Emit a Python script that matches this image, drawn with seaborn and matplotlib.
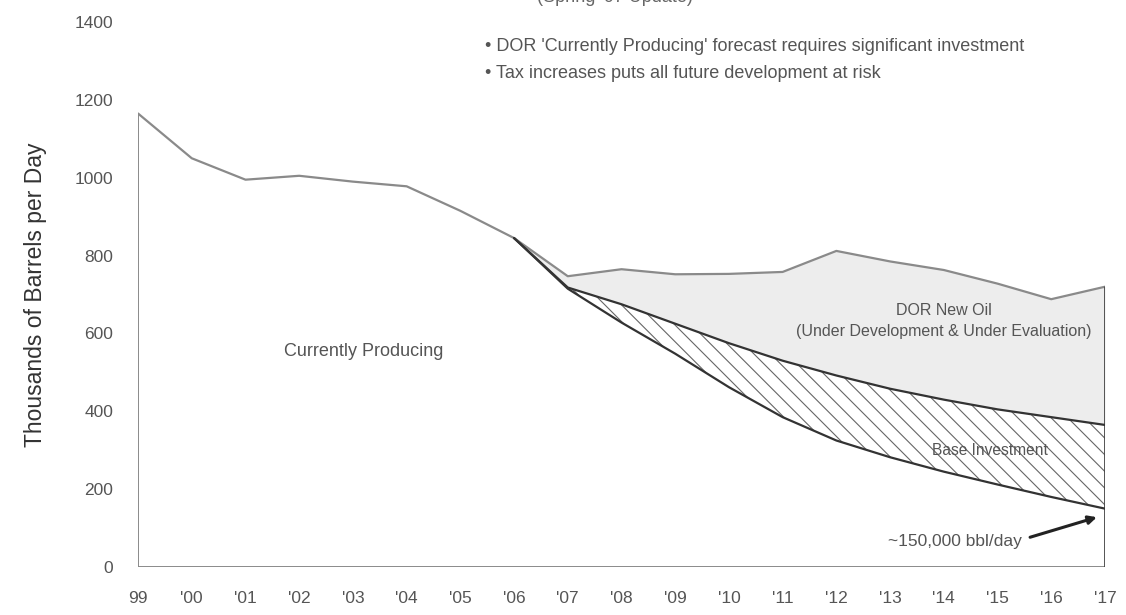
import numpy as np
import pandas as pd
import matplotlib
matplotlib.use("Agg")
import matplotlib.pyplot as plt
import seaborn as sns

# Alaska North Slope production, thousands of barrels per day
years = list(range(1999, 2018))
total_forecast = [1165, 1050, 995, 1005, 990, 978, 915, 845, 747, 765, 752,
                  753, 758, 812, 785, 763, 728, 688, 720]

forecast_years = list(range(2006, 2018))
currently_producing = [845, 715, 628, 548, 462, 385, 325, 282, 245, 212, 180, 150]
with_base_investment = [845, 718, 675, 625, 575, 530, 492, 458, 430, 405, 385, 365]

year_labels = ["99", "'00", "'01", "'02", "'03", "'04", "'05", "'06", "'07", "'08",
               "'09", "'10", "'11", "'12", "'13", "'14", "'15", "'16", "'17"]
y_ticks = [0, 200, 400, 600, 800, 1000, 1200, 1400]

sns.set_theme(style="white")
plt.rcParams["font.family"] = ["Liberation Sans", "DejaVu Sans"]
plt.rcParams["hatch.linewidth"] = 0.8

fig = plt.figure(figsize=(11.26, 6.15), dpi=100)
ax = fig.add_axes([0.1226, 0.078, 0.8587, 0.8862])

df_total = pd.DataFrame({"year": years, "value": total_forecast})
df_fc = pd.DataFrame({"year": forecast_years,
                      "producing": currently_producing,
                      "base": with_base_investment})

tot = np.array(total_forecast, dtype=float)
fy = np.array(forecast_years)
tot_fc = tot[[years.index(y) for y in forecast_years]]

# light shading for new oil volumes above the base-investment case
ax.fill_between(fy, df_fc["base"], tot_fc, color="#ededed", linewidth=0, zorder=1)
# hatched wedge: volumes that depend on base investment
ax.fill_between(fy, df_fc["producing"], df_fc["base"], facecolor="white",
                edgecolor="#666666", hatch="\\\\", linewidth=0, zorder=2)

sns.lineplot(data=df_total, x="year", y="value", color="#8a8a8a", linewidth=1.6,
             ax=ax, zorder=4)
sns.lineplot(data=df_fc, x="year", y="producing", color="#333333", linewidth=1.6,
             ax=ax, zorder=5)
sns.lineplot(data=df_fc, x="year", y="base", color="#333333", linewidth=1.6,
             ax=ax, zorder=5)

# area edges
ax.plot([years[0], years[0]], [0, total_forecast[0]], color="#8a8a8a", lw=1.4, zorder=4)
ax.plot([years[0], years[-1]], [0, 0], color="#8a8a8a", lw=1.4, zorder=4)
ax.plot([years[-1], years[-1]], [0, total_forecast[-1]], color="#444444", lw=2.0, zorder=4)

ax.set_xlim(1999, 2017)
ax.set_ylim(0, 1400)
ax.set_xticks(years)
ax.set_xticklabels(year_labels)
ax.set_yticks(y_ticks)
ax.tick_params(axis="both", length=0, colors="#555555", labelsize=12.5)
ax.tick_params(axis="y", pad=18)
ax.tick_params(axis="x", pad=17)
for s in ax.spines.values():
    s.set_visible(False)
ax.set_xlabel("")
ax.set_ylabel("Thousands of Barrels per Day", fontsize=16.5, color="#333333", labelpad=20)

txt = "#555555"
ax.text(2003.2, 553, "Currently Producing", ha="center", va="center",
        fontsize=13, color=txt)
ax.text(2014.0, 632, "DOR New Oil\n(Under Development & Under Evaluation)",
        ha="center", va="center", fontsize=11.5, color=txt, linespacing=1.5)
ax.text(2014.85, 300, "Base Investment", ha="center", va="center",
        fontsize=11.2, color=txt)
ax.annotate("~150,000 bbl/day", xy=(2016.85, 128), xytext=(2014.2, 66),
            ha="center", va="center", fontsize=12.5, color=txt,
            arrowprops=dict(arrowstyle="-|>", color="#222222", lw=2.2,
                            shrinkA=4, shrinkB=0, mutation_scale=12,
                            relpos=(1.0, 0.6)))

fig.text(0.546, 1.004, "(Spring '07 Update)", ha="center", va="center",
         fontsize=13, color="#666666")
fig.text(0.431, 0.9236, "\u2022 DOR 'Currently Producing' forecast requires significant investment",
         ha="left", va="center", fontsize=13, color=txt)
fig.text(0.431, 0.881, "\u2022 Tax increases puts all future development at risk",
         ha="left", va="center", fontsize=13, color=txt)

fig.savefig("out.png", dpi=100)
